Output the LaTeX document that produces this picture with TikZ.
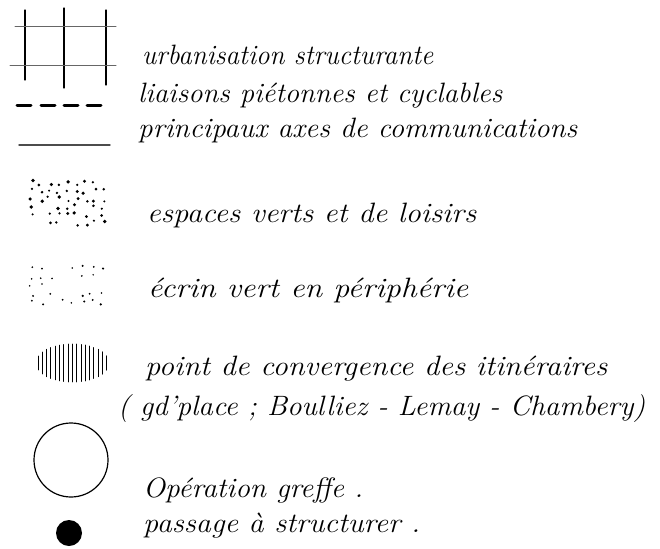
\documentclass[tikz,border=0pt]{standalone}
\usepackage{graphicx}
\usepackage{tikz}
\usetikzlibrary{positioning, calc}

% handwritten label, stretched to the width it has in the legend
\newcommand{\hw}[2]{\resizebox{#1pt}{\height}{#2}}

\begin{document}
\begin{tikzpicture}[x=1pt, y=-1pt, line cap=round,
    lbl/.style={anchor=base west, inner sep=0pt, font=\fontsize{28}{32}\selectfont\itshape}]
        \useasboundingbox (0, 0) rectangle (660, 548);
        % Grid
        \foreach \x/\a/\b in {25/10/80, 64/8/88, 106/10/85} { \draw[line width=1.3pt] (\x, \a) -- (\x, \b); }
        \draw[line width=1pt, black!60] (15, 27) -- (116, 27);
        \draw[line width=1pt, black!60] (10, 66) -- (116, 66);
        \node[lbl] (urb) at (142, 65) {\hw{291}{urbanisation structurante}};
        % Dashes
        \foreach \x in {17, 41, 64, 87} { \draw[line width=3pt] (\x, 106) -- (\x+14, 106); }
        \node[lbl] (liai) at (138, 103) {\hw{364}{liaisons piétonnes et cyclables}};
        % Main roads
        \draw[line width=1.4pt, black!70] (19, 145) -- (110, 145);
        \node[lbl] (axes) at (138, 138) {\hw{439}{principaux axes de communications}};

        % Green spaces
        \pgfmathsetseed{12}
        \foreach \c in {0, ..., 8} {
            \foreach \r in {0, ..., 5} {
                \pgfmathtruncatemacro{\keep}{rnd > 0.15 ? 1 : 0}
                \ifnum\keep=1 \fill ({31+9*\c+5*(rnd-0.5)}, {183+8*\r+5*(rnd-0.5)}) circle ({1.1+0.8*rnd}); \fi
            }
        }
        \node[lbl] (esp) at (147, 222) {\hw{329}{espaces verts et de loisirs}};
        % Peripheral green belt
        \foreach \c in {0, ..., 7} {
            \foreach \r in {0, ..., 4} {
                \pgfmathtruncatemacro{\keep}{rnd > 0.4 ? 1 : 0}
                \ifnum\keep=1 \fill ({32+10*\c+5*(rnd-0.5)}, {268+8.5*\r+5*(rnd-0.5)}) circle ({0.8+0.5*rnd}); \fi
            }
        }
        \node[lbl] (ecr) at (148, 297) {\hw{320}{écrin vert en périphérie}};

        % Convergence point
        \foreach \k in {0, ..., 16} {
            \pgfmathsetmacro{\xx}{38+4.3*\k}
            \pgfmathsetmacro{\hh}{max(6, 19*sqrt(max(0, 1-((\xx-72.5)/37)^2)))}
            \draw[line width=0.9pt] (\xx, 363-\hh) -- (\xx, 363+\hh);
        }
        \node[lbl] (pt) at (145, 375) {\hw{462}{point de convergence des itinéraires}};
        \node[lbl] (gd) at (118, 415) {\hw{527}{( gd'place ; Boulliez - Lemay - Chambery)}};

        % Graft operation
        \draw[line width=1.2pt] (71, 460) circle (37);
        \node[lbl] (gref) at (143, 497) {\hw{220}{Opération greffe .}};
        % Passage
        \fill (69, 533) circle (13);
        \node[lbl] (pass) at (143, 532) {\hw{277}{passage à structurer .}};
    \end{tikzpicture}
\end{document}
